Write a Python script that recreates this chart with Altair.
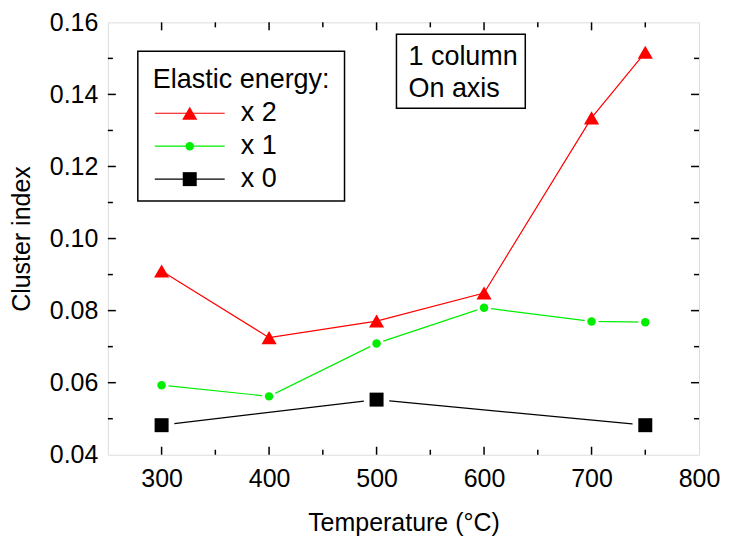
import altair as alt
import pandas as pd

# ---- data ----
temps_x2 = [300, 400, 500, 600, 700, 750]
vals_x2 = [0.0910, 0.0725, 0.0771, 0.0849, 0.1335, 0.1517]
temps_x1 = [300, 400, 500, 600, 700, 750]
vals_x1 = [0.0593, 0.0562, 0.0709, 0.0808, 0.0770, 0.0768]
temps_x0 = [300, 500, 750]
vals_x0 = [0.0482, 0.0553, 0.0482]

series_names = ["x 2", "x 1", "x 0"]
series_colors = ["#ff0000", "#00ee00", "#000000"]
series_shapes = ["triangle-up", "circle", "square"]
series_sizes = [230, 72, 196]
halo_sizes = [0, 200, 650]

x_labels = [300, 400, 500, 600, 700, 800]
x_major = [300, 400, 500, 600, 700]
x_minor = [350, 450, 550, 650, 750]
y_labels = [0.04, 0.06, 0.08, 0.10, 0.12, 0.14, 0.16]
y_major = [0.06, 0.08, 0.10, 0.12, 0.14]
y_minor = [0.05, 0.07, 0.09, 0.11, 0.13, 0.15]

legend_title = "Elastic energy:"
note_lines = ["1 column", "On axis"]

W, H = 592, 433
FONT = "Liberation Sans"

rows = []
for name, ts, vs in zip(series_names, [temps_x2, temps_x1, temps_x0], [vals_x2, vals_x1, vals_x0]):
    for t, v in zip(ts, vs):
        rows.append({"series": name, "T": t, "v": v})
df = pd.DataFrame(rows)

xs = alt.Scale(domain=[250, 800], nice=False, zero=False)
ys = alt.Scale(domain=[0.04, 0.16], nice=False, zero=False)
color_scale = alt.Scale(domain=series_names, range=series_colors)

X = alt.X("T:Q", scale=xs, axis=alt.Axis(
    values=x_labels, ticks=False, tickSize=0, domain=False, grid=False,
    labelFlush=False, labelOverlap=False,
    labelFontSize=25, labelPadding=12, labelColor="black", labelFont=FONT,
    title="Temperature (°C)", titleFontSize=25, titleFontWeight="normal",
    titleColor="black", titleFont=FONT, titlePadding=19))
Y = alt.Y("v:Q", scale=ys, axis=alt.Axis(
    values=y_labels, format=".2f", ticks=False, tickSize=0, domain=False, grid=False,
    labelFlush=False, labelOverlap=False,
    labelFontSize=25, labelPadding=10, labelColor="black", labelFont=FONT,
    title="Cluster index", titleFontSize=25, titleFontWeight="normal",
    titleColor="black", titleFont=FONT, titlePadding=15))

base = alt.Chart(df)
lines = base.mark_line(strokeWidth=1.2).encode(
    x=X, y=Y,
    color=alt.Color("series:N", scale=color_scale, legend=None),
    detail="series:N", order="T:Q")

point_layers = []
for name, col, shp, sz, hs in zip(series_names, series_colors, series_shapes, series_sizes, halo_sizes):
    sub = base.transform_filter(alt.datum.series == name)
    if hs > 0:
        point_layers.append(sub.mark_point(shape=shp, size=hs, filled=True, color="white",
                                           opacity=1, strokeWidth=0).encode(x="T:Q", y="v:Q"))
    point_layers.append(sub.mark_point(shape=shp, size=sz, filled=True, color=col,
                                       opacity=1, strokeWidth=0).encode(x="T:Q", y="v:Q"))

# inward ticks on all four sides
tick_layers = []
for vals, L in [(x_major, 8), (x_minor, 5)]:
    tdf = pd.DataFrame({"T": vals})
    tick_layers.append(alt.Chart(tdf).mark_rule(color="black", strokeWidth=1.5).encode(
        x="T:Q", y=alt.value(H), y2=alt.value(H - L)))
    tick_layers.append(alt.Chart(tdf).mark_rule(color="black", strokeWidth=1.5).encode(
        x="T:Q", y=alt.value(0), y2=alt.value(L)))
for vals, L in [(y_major, 8), (y_minor, 5)]:
    tdf = pd.DataFrame({"v": vals})
    tick_layers.append(alt.Chart(tdf).mark_rule(color="black", strokeWidth=1.5).encode(
        y="v:Q", x=alt.value(0), x2=alt.value(L)))
    tick_layers.append(alt.Chart(tdf).mark_rule(color="black", strokeWidth=1.5).encode(
        y="v:Q", x=alt.value(W), x2=alt.value(W - L)))

one = pd.DataFrame({"a": [0]})
leg = [
    alt.Chart(one).mark_rect(fill="white", stroke="black", strokeWidth=1.5).encode(
        x=alt.value(30), x2=alt.value(237), y=alt.value(29), y2=alt.value(179)),
    alt.Chart(one).mark_text(text=legend_title, align="left", baseline="middle",
                             fontSize=27, font=FONT, color="black").encode(
        x=alt.value(45), y=alt.value(58)),
]
row_y = [91, 124, 157]
for name, col, shp, sz, ry in zip(series_names, series_colors, series_shapes, series_sizes, row_y):
    leg.append(alt.Chart(one).mark_rule(color=col, strokeWidth=1.2).encode(
        x=alt.value(47), x2=alt.value(117), y=alt.value(ry)))
    leg.append(alt.Chart(one).mark_point(shape=shp, size=sz, filled=True, opacity=1,
                                         color=col, strokeWidth=0).encode(
        x=alt.value(82), y=alt.value(ry)))
    leg.append(alt.Chart(one).mark_text(text=name, align="left", baseline="middle",
                                        fontSize=27, font=FONT, color="black").encode(
        x=alt.value(133), y=alt.value(ry)))

note = [
    alt.Chart(one).mark_rect(fill="white", stroke="black", strokeWidth=1.5).encode(
        x=alt.value(289), x2=alt.value(418), y=alt.value(12), y2=alt.value(86)),
    alt.Chart(one).mark_text(text=note_lines[0], align="left", baseline="middle",
                             fontSize=27, font=FONT, color="black").encode(
        x=alt.value(301), y=alt.value(35)),
    alt.Chart(one).mark_text(text=note_lines[1], align="left", baseline="middle",
                             fontSize=27, font=FONT, color="black").encode(
        x=alt.value(301), y=alt.value(67)),
]

chart = alt.layer(lines, *point_layers, *tick_layers, *leg, *note).properties(
    width=W, height=H,
    autosize=alt.AutoSizeParams(type="none"),
    padding={"left": 100, "top": 14, "right": 22, "bottom": 84},
).configure_view(stroke="black", strokeWidth=2).configure(font=FONT)

chart.save("out.html", embed_options={"renderer": "svg", "actions": False})
